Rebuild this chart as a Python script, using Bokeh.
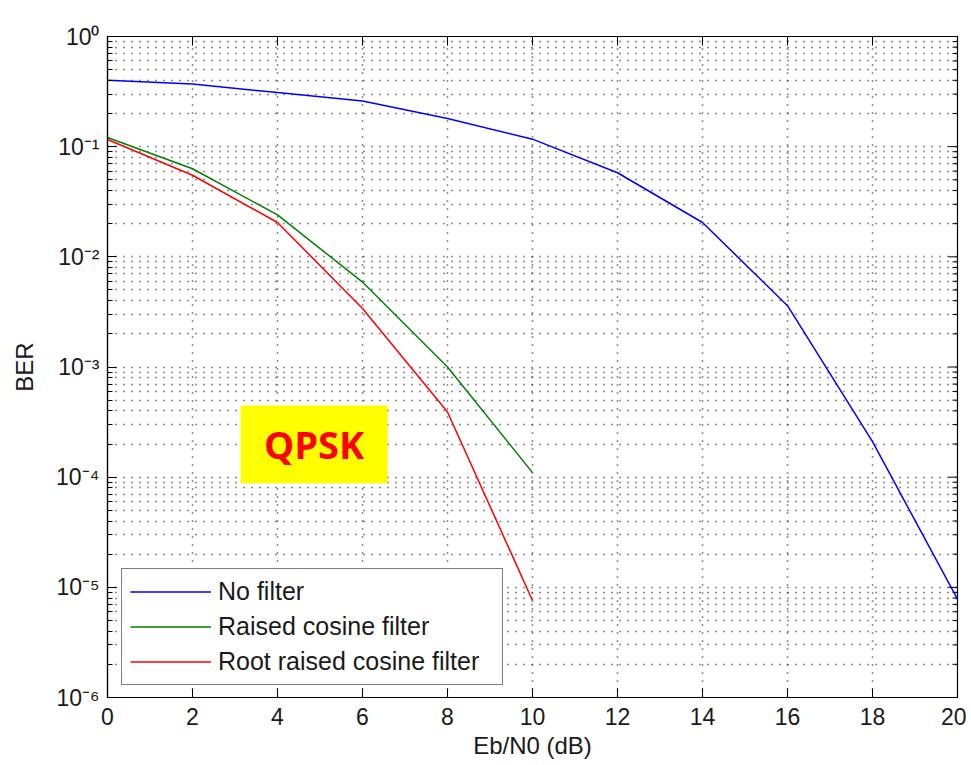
import math
from bokeh.plotting import figure
from bokeh.models import (FixedTicker, CustomJSTickFormatter,
                          Legend, LegendItem, BoxAnnotation, Label, Range1d)
from bokeh.embed import file_html
from bokeh.resources import INLINE

# ---- data ----
ebn0 = [0, 2, 4, 6, 8, 10, 12, 14, 16, 18, 20]
ber_no_filter = [0.40, 0.37, 0.31, 0.26, 0.18, 0.117, 0.058, 0.0205, 0.0036, 2.1e-4, 7.8e-6]
ebn0_rc = [0, 2, 4, 6, 8, 10]
ber_raised_cosine = [0.121, 0.063, 0.024, 0.0059, 1.0e-3, 1.1e-4]
ber_root_raised_cosine = [0.116, 0.055, 0.0205, 0.0034, 3.9e-4, 7.6e-6]

x_ticks = [0, 2, 4, 6, 8, 10, 12, 14, 16, 18, 20]
y_ticks = [1e-6, 1e-5, 1e-4, 1e-3, 1e-2, 1e-1, 1e0]
y_minor = [m * 10.0 ** e for e in range(-6, 0) for m in range(2, 10)]

series_names = ["No filter", "Raised cosine filter", "Root raised cosine filter"]
series_colors = ["#0000ff", "#008000", "#ff0000"]

annot_text = "QPSK"
annot_box = dict(left=3.13, right=6.59, bottom=8.8e-5, top=4.47e-4)
annot_pos = (4.86, 1.98e-4)

stray_text = "0"          # stray label at the lower-left edge of the original image
stray_pos = (-2.33, 4.7e-7)

X_MIN, X_MAX = 0, 20
Y_MIN, Y_MAX = 1e-6, 1.0

FONT = "Liberation Sans"
TXT = "#1a1a1a"

p = figure(width=966, height=763, output_backend="svg", toolbar_location=None,
           y_axis_type="log", x_range=Range1d(X_MIN, X_MAX), y_range=Range1d(Y_MIN, Y_MAX),
           min_border_left=107, min_border_right=9, min_border_top=36, min_border_bottom=66,
           background_fill_color="white", border_fill_color="white")
p.outline_line_color = "black"
p.outline_line_width = 1.2

sup_code = """
const e = Math.round(Math.log10(tick));
const m = {'-':'\u207b','0':'\u2070','1':'\u00b9','2':'\u00b2','3':'\u00b3','4':'\u2074','5':'\u2075','6':'\u2076','7':'\u2077','8':'\u2078','9':'\u2079'};
return '10' + String(e).split('').map(c => m[c]).join('');
"""

yt = FixedTicker(ticks=y_ticks, minor_ticks=y_minor)
xt = FixedTicker(ticks=x_ticks, minor_ticks=[])

for ax in (p.xaxis[0], p.yaxis[0]):
    ax.axis_line_color = "black"
    ax.axis_line_width = 1.2
    ax.major_tick_line_color = "black"
    ax.minor_tick_line_color = "black"
    ax.major_tick_in = 9
    ax.major_tick_out = 0
    ax.minor_tick_in = 5
    ax.minor_tick_out = 0
    ax.major_label_text_font = FONT
    ax.major_label_text_font_size = "23px"
    ax.major_label_text_color = TXT
    ax.axis_label_text_font = FONT
    ax.axis_label_text_font_size = "24px"
    ax.axis_label_text_font_style = "normal"
    ax.axis_label_text_color = TXT

p.xaxis[0].ticker = xt
p.yaxis[0].ticker = yt
p.yaxis[0].formatter = CustomJSTickFormatter(code=sup_code)
p.xaxis[0].axis_label = "Eb/N0 (dB)"
p.yaxis[0].axis_label = "BER"
p.xaxis[0].major_label_standoff = 10
p.xaxis[0].axis_label_standoff = 4
p.yaxis[0].major_label_standoff = 8
p.yaxis[0].axis_label_standoff = 15

# inward ticks on the top and right edges (Matlab box)
p.ray(x=x_ticks, y=Y_MAX, length=9, length_units="screen", angle=-math.pi / 2,
      line_color="black", line_width=1)
p.ray(x=X_MAX, y=y_ticks, length=9, length_units="screen", angle=math.pi,
      line_color="black", line_width=1)
p.ray(x=X_MAX, y=y_minor, length=5, length_units="screen", angle=math.pi,
      line_color="black", line_width=1)

# dotted Matlab-like grid
p.xgrid.ticker = xt
p.ygrid.ticker = yt
for g in (p.xgrid[0], p.ygrid[0]):
    g.grid_line_color = "#1a1a1a"
    g.grid_line_width = 1.5
    g.grid_line_dash = "1 7"
p.ygrid[0].minor_grid_line_color = "#1a1a1a"
p.ygrid[0].minor_grid_line_width = 1.5
p.ygrid[0].minor_grid_line_dash = "1 7"

# annotation box
p.add_layout(BoxAnnotation(fill_color="#ffff00", fill_alpha=1.0, line_color=None,
                           level="annotation", **annot_box))
p.add_layout(Label(x=annot_pos[0], y=annot_pos[1], text=annot_text, text_font="Open Sans",
                   text_font_style="bold", text_font_size="38px", text_color="#ff0000",
                   text_align="center", text_baseline="middle"))
p.add_layout(Label(x=stray_pos[0], y=stray_pos[1], text=stray_text, text_font=FONT,
                   text_font_size="23px", text_color=TXT,
                   text_align="center", text_baseline="middle"))

r1 = p.line(ebn0, ber_no_filter, line_color=series_colors[0], line_width=1.5)
r2 = p.line(ebn0_rc, ber_raised_cosine, line_color=series_colors[1], line_width=1.5)
r3 = p.line(ebn0_rc, ber_root_raised_cosine, line_color=series_colors[2], line_width=1.5)

legend = Legend(items=[LegendItem(label=series_names[0], renderers=[r1]),
                       LegendItem(label=series_names[1], renderers=[r2]),
                       LegendItem(label=series_names[2], renderers=[r3])],
                location=(14, 12), orientation="vertical",
                label_text_font=FONT, label_text_font_size="25px", label_text_color=TXT,
                glyph_width=81, glyph_height=29, spacing=6, padding=8, margin=0,
                label_standoff=7, label_width=276, label_height=29,
                border_line_color="black", border_line_width=1.2,
                background_fill_color="white", background_fill_alpha=1.0)
p.add_layout(legend, "center")

open("out.html", "w").write(file_html(p, INLINE))
